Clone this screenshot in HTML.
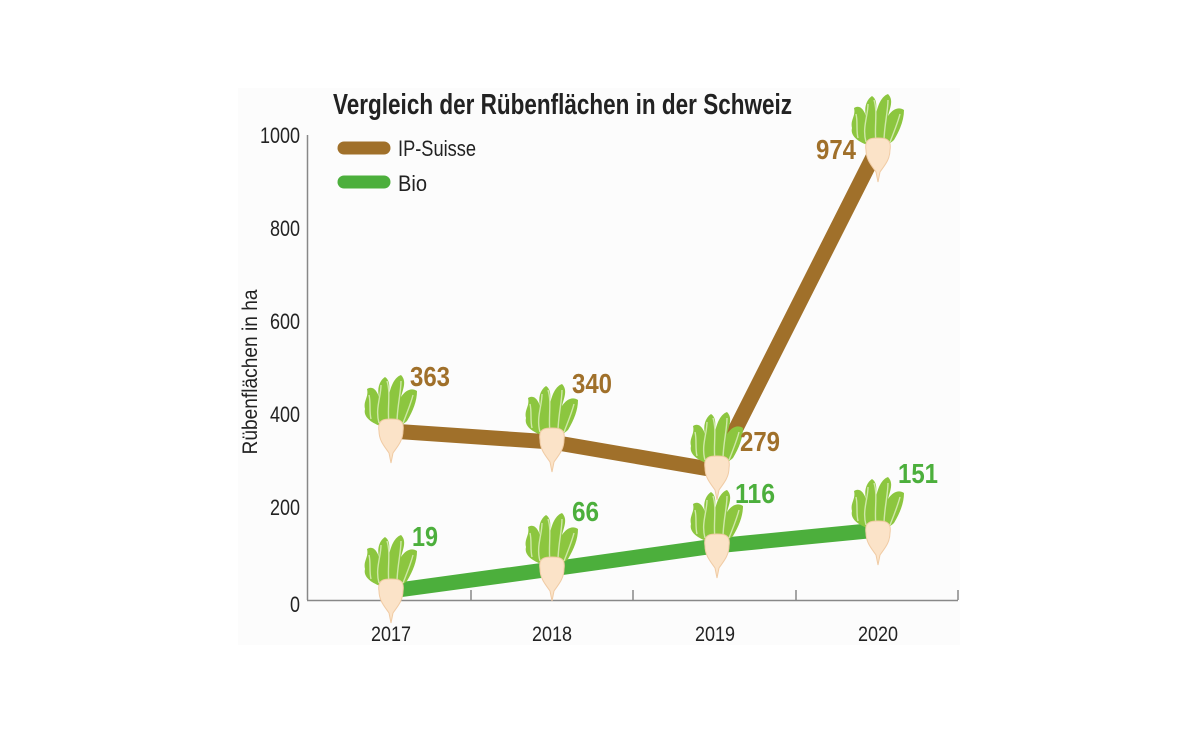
<!DOCTYPE html>
<html><head><meta charset="utf-8"><style>
html,body{margin:0;padding:0;background:#fff;}
svg{display:block;}
text{font-family:"Liberation Sans",sans-serif;}
</style></head><body>
<svg width="1200" height="738" viewBox="0 0 1200 738" xmlns="http://www.w3.org/2000/svg">
<defs>
<g id="beet">
  <path d="M-8,-4 C-20,-8 -28,-14 -26,-22 C-28,-30 -22,-34 -24,-42 C-18,-46 -14,-40 -12,-34 C-14,-42 -12,-50 -6,-54 C0,-50 -2,-42 -2,-36 C0,-46 4,-54 10,-56 C16,-50 12,-42 10,-34 C14,-40 20,-44 26,-40 C26,-30 22,-20 16,-10 C12,-6 6,-4 0,-4 Z" fill="#8cc63f"/>
  <path d="M-20,-12 C-22,-20 -20,-28 -22,-36 M-12,-8 C-16,-22 -10,-34 -10,-46 M-2,-8 C-4,-22 0,-38 -4,-50 M6,-8 C6,-24 10,-38 10,-50 M12,-8 C16,-18 20,-28 22,-36" stroke="#cfe8a8" stroke-width="1.4" fill="none"/>
  <path d="M-12,0 C-14,-12 -6,-12 0,-12 C6,-12 14,-12 12,0 C12,10 6,16 2,22 L0,32 L-2,22 C-6,16 -12,10 -12,0 Z" fill="#fbe3c8" stroke="#f0cba4" stroke-width="1"/>
</g>
</defs>
<rect x="238" y="88" width="722" height="557" fill="#fcfcfc"/>
<text x="333" y="114" font-size="29" font-weight="bold" fill="#222" textLength="459" lengthAdjust="spacingAndGlyphs">Vergleich der Rübenflächen in der Schweiz</text>
<line x1="344" y1="148" x2="384" y2="148" stroke="#a0702a" stroke-width="13" stroke-linecap="round"/>
<text x="398" y="156" font-size="22" fill="#222" textLength="78" lengthAdjust="spacingAndGlyphs">IP-Suisse</text>
<line x1="344" y1="182" x2="384" y2="182" stroke="#4caf3c" stroke-width="13" stroke-linecap="round"/>
<text x="398" y="191" font-size="22" fill="#222" textLength="29" lengthAdjust="spacingAndGlyphs">Bio</text>
<line x1="307.5" y1="135" x2="307.5" y2="600" stroke="#888" stroke-width="1.5"/>
<line x1="307" y1="600.5" x2="958" y2="600.5" stroke="#888" stroke-width="1.5"/>
<g stroke="#888" stroke-width="1.5">
<line x1="471" y1="590" x2="471" y2="600"/><line x1="633" y1="590" x2="633" y2="600"/><line x1="796" y1="590" x2="796" y2="600"/><line x1="958" y1="590" x2="958" y2="600"/>
</g>
<g font-size="22" fill="#222" text-anchor="end">
<text x="300" y="143" textLength="40" lengthAdjust="spacingAndGlyphs">1000</text>
<text x="300" y="236" textLength="30" lengthAdjust="spacingAndGlyphs">800</text>
<text x="300" y="329" textLength="30" lengthAdjust="spacingAndGlyphs">600</text>
<text x="300" y="422" textLength="30" lengthAdjust="spacingAndGlyphs">400</text>
<text x="300" y="515" textLength="30" lengthAdjust="spacingAndGlyphs">200</text>
<text x="300" y="612" textLength="10" lengthAdjust="spacingAndGlyphs">0</text>
</g>
<g font-size="21" fill="#222" text-anchor="middle">
<text x="391" y="641" textLength="40" lengthAdjust="spacingAndGlyphs">2017</text>
<text x="552" y="641" textLength="40" lengthAdjust="spacingAndGlyphs">2018</text>
<text x="715" y="641" textLength="40" lengthAdjust="spacingAndGlyphs">2019</text>
<text x="878" y="641" textLength="40" lengthAdjust="spacingAndGlyphs">2020</text>
</g>
<text transform="translate(257,372) rotate(-90)" font-size="21" fill="#222" text-anchor="middle" textLength="165" lengthAdjust="spacingAndGlyphs">Rübenflächen in ha</text>
<polyline points="391,431 552,442 715,470 878,147" fill="none" stroke="#a0702a" stroke-width="15" stroke-linejoin="round"/>
<polyline points="391,591 552,569 715,546 878,530" fill="none" stroke="#4caf3c" stroke-width="15" stroke-linejoin="round"/>
<use href="#beet" x="391" y="431"/>
<use href="#beet" x="552" y="440"/>
<use href="#beet" x="717" y="468"/>
<use href="#beet" x="878" y="150"/>
<use href="#beet" x="391" y="591"/>
<use href="#beet" x="552" y="569"/>
<use href="#beet" x="717" y="546"/>
<use href="#beet" x="878" y="533"/>
<g font-size="28" font-weight="bold">
<text x="410" y="386" fill="#a0702a" textLength="40" lengthAdjust="spacingAndGlyphs">363</text>
<text x="572" y="393" fill="#a0702a" textLength="40" lengthAdjust="spacingAndGlyphs">340</text>
<text x="740" y="451" fill="#a0702a" textLength="40" lengthAdjust="spacingAndGlyphs">279</text>
<text x="816" y="159" fill="#a0702a" textLength="40" lengthAdjust="spacingAndGlyphs">974</text>
<text x="412" y="546" fill="#4caf3c" textLength="26" lengthAdjust="spacingAndGlyphs">19</text>
<text x="572" y="521" fill="#4caf3c" textLength="27" lengthAdjust="spacingAndGlyphs">66</text>
<text x="735" y="503" fill="#4caf3c" textLength="40" lengthAdjust="spacingAndGlyphs">116</text>
<text x="898" y="483" fill="#4caf3c" textLength="40" lengthAdjust="spacingAndGlyphs">151</text>
</g>
</svg>
</body></html>
